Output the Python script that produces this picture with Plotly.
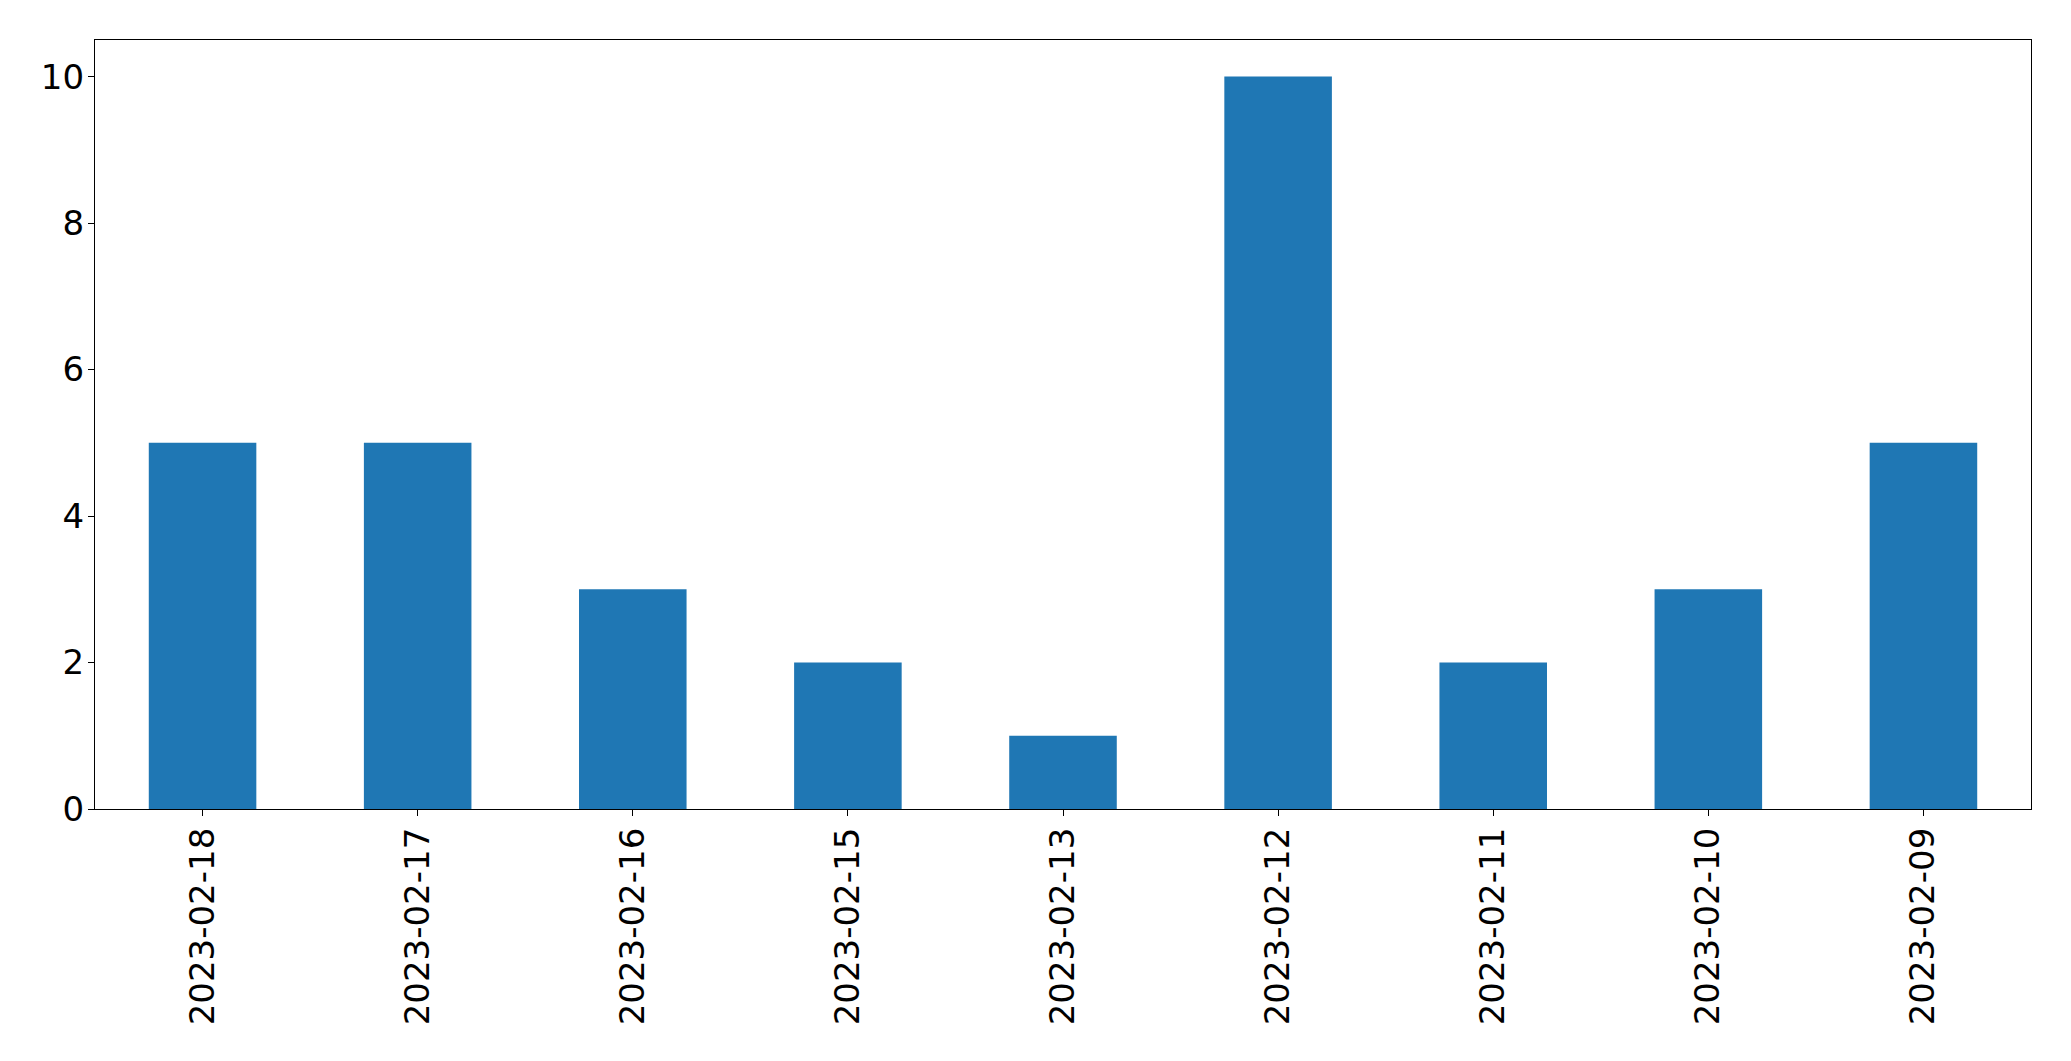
import plotly.graph_objects as go

dates = ["2023-02-18", "2023-02-17", "2023-02-16", "2023-02-15", "2023-02-13",
         "2023-02-12", "2023-02-11", "2023-02-10", "2023-02-09"]
counts = [5, 5, 3, 2, 1, 10, 2, 3, 5]
y_ticks = [0, 2, 4, 6, 8, 10]

fig = go.Figure(go.Bar(x=dates, y=counts, width=0.5, marker_color="#1f77b4",
                       marker_line_width=0))

font = dict(family="DejaVu Sans", size=34, color="black")
# page body has an 8px default margin; compensate so the plot lands at the reference position
fig.update_layout(
    width=2063, height=1053,
    margin=dict(l=86.5, r=39.5, t=31.5, b=252, autoexpand=False),
    plot_bgcolor="white", paper_bgcolor="white",
    font=font, showlegend=False,
)
fig.update_xaxes(type="category", range=[-0.5, 8.5], tickangle=-90,
                 showline=True, linecolor="black", linewidth=1.3, mirror=True,
                 ticks="outside", ticklen=6, tickcolor="black", tickwidth=1.3,
                 showgrid=False, tickfont=font, ticklabelstandoff=-2)
fig.update_yaxes(range=[0, 10.5], tickvals=y_ticks,
                 showline=True, linecolor="black", linewidth=1.3, mirror=True,
                 ticks="outside", ticklen=6, tickcolor="black", tickwidth=1.3,
                 showgrid=False, zeroline=False, tickfont=font, ticklabelstandoff=-3)

fig.write_html("out.html")
